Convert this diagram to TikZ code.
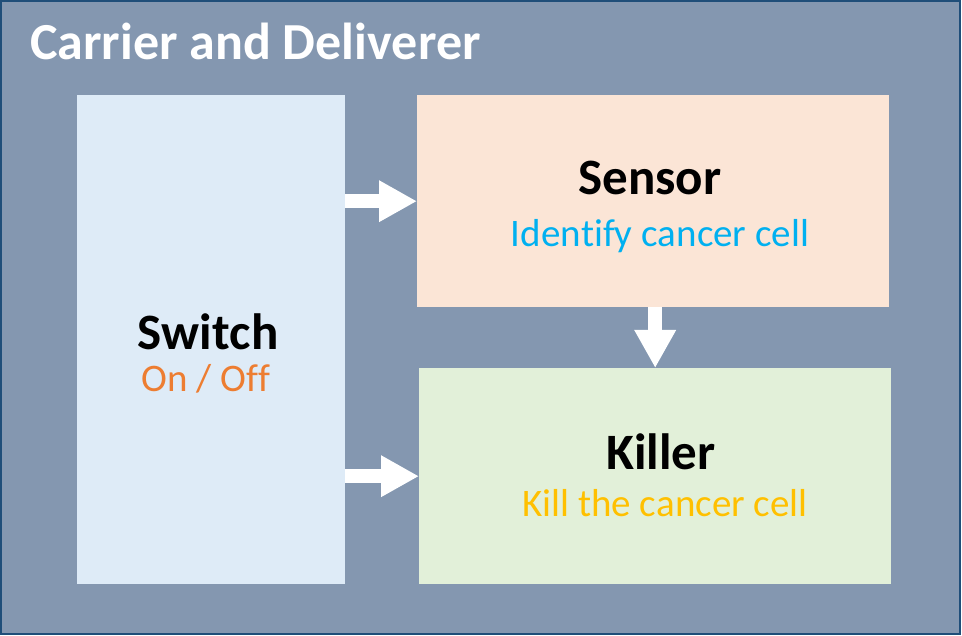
\documentclass[tikz,border=0pt]{standalone}
\usepackage{fontspec}
\setmainfont{Carlito}[Ligatures=NoCommon,Kerning=Off]
\usepackage{tikz}
\usetikzlibrary{arrows.meta}
\definecolor{framecol}{HTML}{1F4E79}
\definecolor{backcol}{HTML}{8497B0}
\definecolor{switchfill}{HTML}{DEEBF7}
\definecolor{sensorfill}{HTML}{FBE5D6}
\definecolor{killerfill}{HTML}{E2F0D9}
\definecolor{sensortext}{HTML}{00B0F0}
\definecolor{switchtext}{HTML}{ED7D31}
\definecolor{killertext}{HTML}{FFC000}

\begin{document}
\begin{tikzpicture}[x=1pt,y=-1pt,
		box/.style={draw=none,inner sep=0pt,anchor=north west},
		bigtext/.style={font=\fontsize{51}{51}\selectfont\bfseries,anchor=base,inner sep=0pt},
		smalltext/.style={font=\fontsize{39}{39}\selectfont,anchor=base,inner sep=0pt},
		blockarrow/.style={white,line width=14pt,-{Triangle[length=38pt,width=39pt]}}]
		\useasboundingbox (0,0) rectangle (962,636);
		\draw[framecol,line width=2pt,fill=backcol] (1,1) rectangle (960,634);
		\node[bigtext,anchor=base west,white,font=\fontsize{52}{52}\selectfont\bfseries] (title) at (30,60) {Carrier and Deliverer};
		\node[box,fill=switchfill,minimum width=268pt,minimum height=489pt] (switch) at (77,95) {};
		\node[box,fill=sensorfill,minimum width=472pt,minimum height=212pt] (sensor) at (417,95) {};
		\node[box,fill=killerfill,minimum width=472pt,minimum height=216pt] (killer) at (419,368) {};
		\node[bigtext] (switchname) at (208,350) {Switch};
		\node[smalltext,switchtext] (switchrole) at (206,392) {On / Off};
		\node[bigtext] (sensorname) at (650,195) {Sensor};
		\node[smalltext,sensortext] (sensorrole) at (660,247) {Identify cancer cell};
		\node[bigtext] (killername) at (661,469) {Killer};
		\node[smalltext,killertext] (killerrole) at (665,516) {Kill the cancer cell};
		\draw[blockarrow] (switch.east |- sensor.west) -- (sensor.west);
		\draw[blockarrow] (switch.east |- killer.west) -- (killer.west);
		\draw[blockarrow] (killer.north |- sensor.south) -- (killer.north);
\end{tikzpicture}
\end{document}
